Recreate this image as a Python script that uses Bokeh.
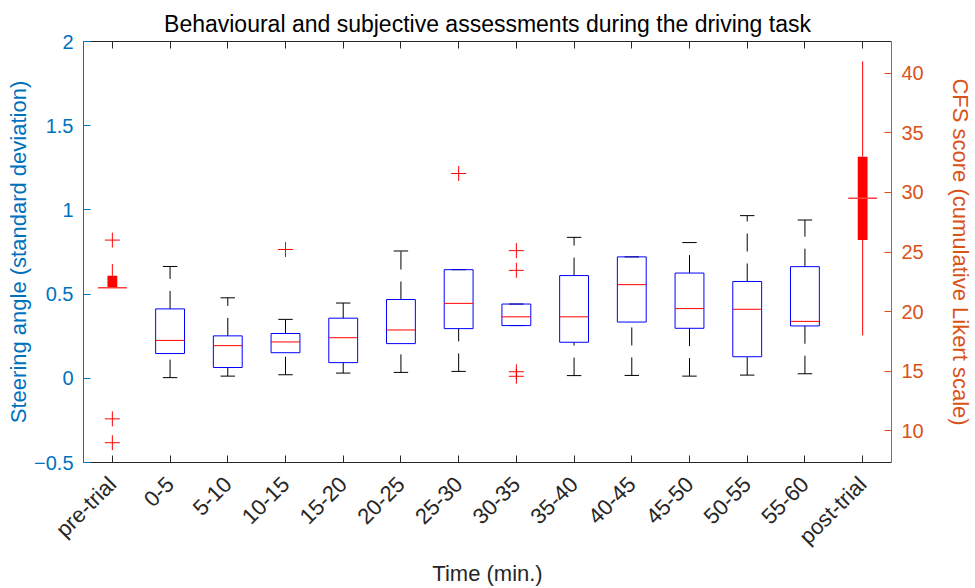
import math
import json
from bokeh.plotting import figure
from bokeh.models import Range1d, LinearAxis, FixedTicker, CustomJSTickFormatter
from bokeh.embed import file_html
from bokeh.resources import INLINE

# ---------------- data ----------------
categories = ["pre-trial", "0-5", "5-10", "10-15", "15-20", "20-25", "25-30",
              "30-35", "35-40", "40-45", "45-50", "50-55", "55-60", "post-trial"]

# Steering angle (std) box statistics for the 12 driving intervals
steer_cats = categories[1:13]
steer_lo  = [0.004, 0.013, 0.021, 0.031, 0.035, 0.041, 0.313, 0.016, 0.017, 0.013, 0.019, 0.027]
steer_q1  = [0.147, 0.064, 0.152, 0.093, 0.206, 0.295, 0.313, 0.214, 0.334, 0.297, 0.128, 0.311]
steer_med = [0.225, 0.194, 0.216, 0.241, 0.287, 0.445, 0.365, 0.365, 0.556, 0.414, 0.410, 0.338]
steer_q3  = [0.412, 0.252, 0.266, 0.357, 0.468, 0.645, 0.441, 0.610, 0.721, 0.625, 0.575, 0.663]
steer_hi  = [0.664, 0.478, 0.350, 0.447, 0.756, 0.645, 0.441, 0.837, 0.721, 0.806, 0.966, 0.940]
steer_out_cat = ["10-15", "25-30", "30-35", "30-35", "30-35", "30-35"]
steer_out_val = [0.765, 1.216, 0.758, 0.641, 0.039, 0.012]

# CFS score (cumulative Likert scale) for pre-/post-trial
cfs_cats = ["pre-trial", "post-trial"]
cfs_lo  = [22, 18]
cfs_q1  = [22, 26]
cfs_med = [22, 29.5]
cfs_q3  = [23, 33]
cfs_hi  = [24, 41]
cfs_out_cat = ["pre-trial", "pre-trial", "pre-trial"]
cfs_out_val = [26, 11, 9]

left_ticks = [-0.5, 0, 0.5, 1, 1.5, 2]
right_ticks = [10, 15, 20, 25, 30, 35, 40]

# ---------------- styling ----------------
FONT = "Liberation Sans"
BLUE_AX = "#0072BD"
ORANGE_AX = "#D95319"
DARK = "#262626"

pos = {c: i + 1 for i, c in enumerate(categories)}
sx = [pos[c] for c in steer_cats]
cx = [pos[c] for c in cfs_cats]

p = figure(width=975, height=588, output_backend="svg", toolbar_location=None,
           x_range=Range1d(0.5, 14.5), y_range=Range1d(-0.5, 2),
           x_axis_type=None, y_axis_type=None,
           min_border_left=83, min_border_right=78, min_border_top=41, min_border_bottom=118)
p.extra_y_ranges = {"cfs": Range1d(7.34, 42.66)}
p.outline_line_color = None
p.background_fill_color = "white"
p.border_fill_color = "white"

p.title.text = "Behavioural and subjective assessments during the driving task"
p.title.text_font = FONT
p.title.text_font_size = "23px"
p.title.text_font_style = "normal"
p.title.text_color = "#000000"
p.title.align = "center"
p.title.standoff = 10

num_fmt = CustomJSTickFormatter(code="return tick < 0 ? '\u2212' + (-tick).toString() : tick.toString();")
cat_fmt = CustomJSTickFormatter(code="const labels = %s; return labels[Math.round(tick) - 1];" % json.dumps(categories))
blank_fmt = CustomJSTickFormatter(code="return '';")

def style_axis(ax, color, tick_size="20px", label_size="22px"):
    ax.axis_line_color = color
    ax.major_tick_line_color = color
    ax.minor_tick_line_color = None
    ax.major_tick_in = 7
    ax.major_tick_out = 0
    ax.major_label_text_color = color
    ax.major_label_text_font = FONT
    ax.major_label_text_font_size = tick_size
    ax.axis_label_text_color = color
    ax.axis_label_text_font = FONT
    ax.axis_label_text_font_size = label_size
    ax.axis_label_text_font_style = "normal"

bottom = LinearAxis(ticker=FixedTicker(ticks=list(range(1, len(categories) + 1))),
                    formatter=cat_fmt, axis_label="Time (min.)")
style_axis(bottom, DARK, tick_size="22px")
bottom.major_label_orientation = math.pi / 4
bottom.major_label_standoff = 18
bottom.axis_label_standoff = 0
p.add_layout(bottom, "below")

top = LinearAxis(ticker=FixedTicker(ticks=list(range(1, len(categories) + 1))), formatter=blank_fmt)
style_axis(top, DARK)
top.major_label_standoff = 0
p.add_layout(top, "above")

left = LinearAxis(ticker=FixedTicker(ticks=left_ticks), formatter=num_fmt,
                  axis_label="Steering angle (standard deviation)")
style_axis(left, BLUE_AX)
left.major_label_standoff = 10
left.axis_label_standoff = 0
p.add_layout(left, "left")

right = LinearAxis(y_range_name="cfs", ticker=FixedTicker(ticks=right_ticks), formatter=num_fmt,
                   axis_label="CFS score (cumulative Likert scale)")
style_axis(right, ORANGE_AX)
right.major_label_standoff = 10
right.axis_label_standoff = 21
p.add_layout(right, "right")

# ---------------- steering boxes ----------------
BW = 0.5
CAP = 0.125
p.segment(x0=sx, x1=sx, y0=steer_lo, y1=steer_q1, line_color="black", line_width=1, line_dash="18 12")
p.segment(x0=sx, x1=sx, y0=steer_q3, y1=steer_hi, line_color="black", line_width=1, line_dash="18 12")
p.segment(x0=[x - CAP for x in sx], x1=[x + CAP for x in sx], y0=steer_lo, y1=steer_lo,
          line_color="black", line_width=1)
p.segment(x0=[x - CAP for x in sx], x1=[x + CAP for x in sx], y0=steer_hi, y1=steer_hi,
          line_color="black", line_width=1)
p.vbar(x=sx, width=BW, bottom=steer_q1, top=steer_q3, fill_alpha=0,
       line_color="#0000FF", line_width=1)
p.segment(x0=[x - BW / 2 for x in sx], x1=[x + BW / 2 for x in sx], y0=steer_med, y1=steer_med,
          line_color="#FF0000", line_width=1)
p.scatter(x=[pos[c] for c in steer_out_cat], y=steer_out_val, marker="cross", size=15,
          line_color="#FF0000", line_width=1)

# ---------------- CFS compact boxes ----------------
p.segment(x0=cx, x1=cx, y0=cfs_lo, y1=cfs_q1, line_color="#FF0000", line_width=1, y_range_name="cfs")
p.segment(x0=cx, x1=cx, y0=cfs_q3, y1=cfs_hi, line_color="#FF0000", line_width=1, y_range_name="cfs")
p.vbar(x=cx, width=0.17, bottom=cfs_q1, top=cfs_q3, fill_color="#FF0000", line_color="#FF0000",
       line_width=0, y_range_name="cfs")
p.segment(x0=[x - BW / 2 for x in cx], x1=[x + BW / 2 for x in cx], y0=cfs_med, y1=cfs_med,
          line_color="#FF4040", line_width=1.5, y_range_name="cfs")
p.scatter(x=[pos[c] for c in cfs_out_cat], y=cfs_out_val, marker="cross", size=15,
          line_color="#FF0000", line_width=1, y_range_name="cfs")

open("out.html", "w").write(file_html(p, INLINE))
